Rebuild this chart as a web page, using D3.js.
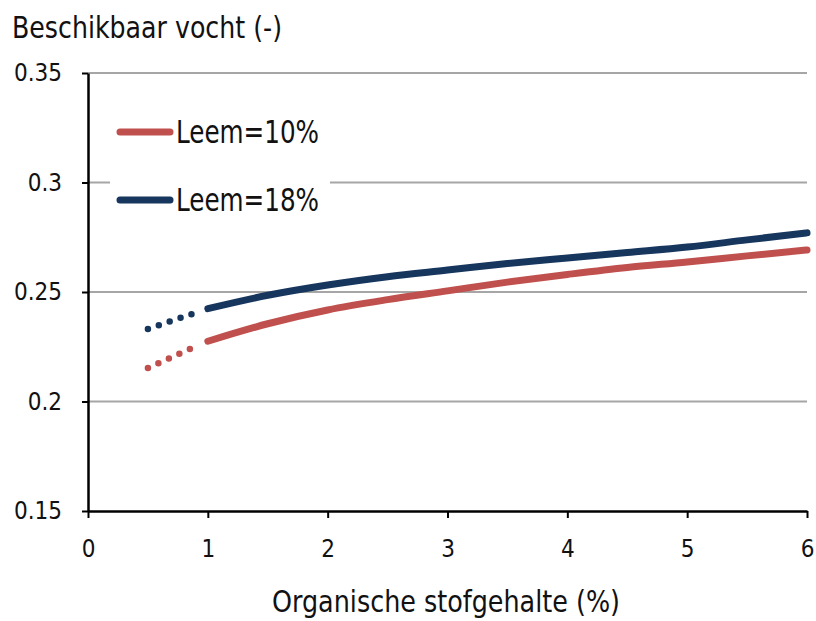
<!DOCTYPE html>
<html>
<head>
<meta charset="utf-8">
<script src="https://cdn.jsdelivr.net/npm/d3@7"></script>
<style>
  body { margin: 0; background: #fff; }
  text { font-family: "DejaVu Sans Condensed", "DejaVu Sans", sans-serif; fill: #111; }
</style>
</head>
<body>
<div id="chart"></div>
<script>
// Organisch stofgehalte (%) values
var xSolid = [1, 1.5, 2, 2.5, 3, 3.5, 4, 4.5, 5, 5.5, 6];
var xDotted = [0.5, 0.75, 1];

// Beschikbaar vocht, Leem=10%
var leem10Solid = [0.2275, 0.2355, 0.2418, 0.2465, 0.2505, 0.2545, 0.2580, 0.2612, 0.2637, 0.2665, 0.2692];
var leem10Dotted = [0.2153, 0.2215, 0.2275];

// Beschikbaar vocht, Leem=18%
var leem18Solid = [0.2424, 0.2485, 0.2532, 0.2570, 0.2600, 0.2630, 0.2655, 0.2680, 0.2705, 0.2738, 0.2770];
var leem18Dotted = [0.2331, 0.2378, 0.2424];

var xTicks = [0, 1, 2, 3, 4, 5, 6];
var yTicks = [0.15, 0.2, 0.25, 0.3, 0.35];
var seriesNames = ['Leem=10%', 'Leem=18%'];
var colors = ['#c0504d', '#17365d'];

var W = 816, H = 621;
var plotLeft = 88, plotRight = 807, plotTop = 73, plotBottom = 511;

var svg = d3.select('#chart').append('svg')
  .attr('width', W).attr('height', H);

var x = d3.scaleLinear().domain([0, 6]).range([plotLeft, plotRight]);
var y = d3.scaleLinear().domain([0.15, 0.35]).range([plotBottom, plotTop]);

// gridlines
svg.append('g')
  .selectAll('line')
  .data(yTicks.slice(1))
  .enter().append('line')
  .attr('x1', plotLeft).attr('x2', plotRight)
  .attr('y1', function(d) { return y(d); })
  .attr('y2', function(d) { return y(d); })
  .attr('stroke', '#a6a6a6')
  .attr('stroke-width', 2);

// axes
var yAxis = d3.axisLeft(y).tickValues(yTicks)
  .tickFormat(function(d) { return String(d); })
  .tickSizeInner(6).tickSizeOuter(0).tickPadding(20);
var xAxis = d3.axisBottom(x).tickValues(xTicks)
  .tickFormat(d3.format('d'))
  .tickSizeInner(7).tickSizeOuter(0).tickPadding(22);

var gy = svg.append('g').attr('transform', 'translate(' + plotLeft + ',0)').call(yAxis);
var gx = svg.append('g').attr('transform', 'translate(0,' + plotBottom + ')').call(xAxis);

[gx, gy].forEach(function(g) {
  g.select('.domain').attr('stroke', '#000').attr('stroke-width', 2.5);
  g.selectAll('.tick line').attr('stroke', '#000').attr('stroke-width', 2);
  g.selectAll('.tick text').attr('font-size', 24).attr('font-family', '"DejaVu Sans Condensed", sans-serif').attr('fill', '#111');
});

// lines
var line = d3.line()
  .x(function(d) { return x(d[0]); })
  .y(function(d) { return y(d[1]); })
  .curve(d3.curveMonotoneX);

var solids = [leem10Solid, leem18Solid];
var dotteds = [leem10Dotted, leem18Dotted];

solids.forEach(function(vals, i) {
  svg.append('path')
    .attr('d', line(xSolid.map(function(v, j) { return [v, vals[j]]; })))
    .attr('fill', 'none')
    .attr('stroke', colors[i])
    .attr('stroke-width', 7)
    .attr('stroke-linecap', 'round');
  svg.append('path')
    .attr('d', line(xDotted.map(function(v, j) { return [v, dotteds[i][j]]; })))
    .attr('fill', 'none')
    .attr('stroke', colors[i])
    .attr('stroke-width', 6.5)
    .attr('stroke-linecap', 'round')
    .attr('stroke-dasharray', '0 11.5 0 11.5 0 11.5 0 11.5 0 40');
});

// legend with white background covering the gridline
svg.append('rect')
  .attr('x', 110).attr('y', 108).attr('width', 220).attr('height', 118)
  .attr('fill', '#fff');

seriesNames.forEach(function(name, i) {
  var ly = 132 + i * 68;
  svg.append('line')
    .attr('x1', 120).attr('x2', 170)
    .attr('y1', ly).attr('y2', ly)
    .attr('stroke', colors[i])
    .attr('stroke-width', 7)
    .attr('stroke-linecap', 'round');
  svg.append('text')
    .attr('x', 176).attr('y', ly + 11)
    .attr('font-size', 32)
    .attr('textLength', 143)
    .attr('lengthAdjust', 'spacingAndGlyphs')
    .text(name);
});

// titles
svg.append('text')
  .attr('x', 12).attr('y', 38)
  .attr('font-size', 30)
  .attr('textLength', 270)
  .attr('lengthAdjust', 'spacingAndGlyphs')
  .text('Beschikbaar vocht (-)');

svg.append('text')
  .attr('x', 272).attr('y', 612)
  .attr('font-size', 30)
  .attr('textLength', 348)
  .attr('lengthAdjust', 'spacingAndGlyphs')
  .text('Organische stofgehalte (%)');
</script>
</body>
</html>
